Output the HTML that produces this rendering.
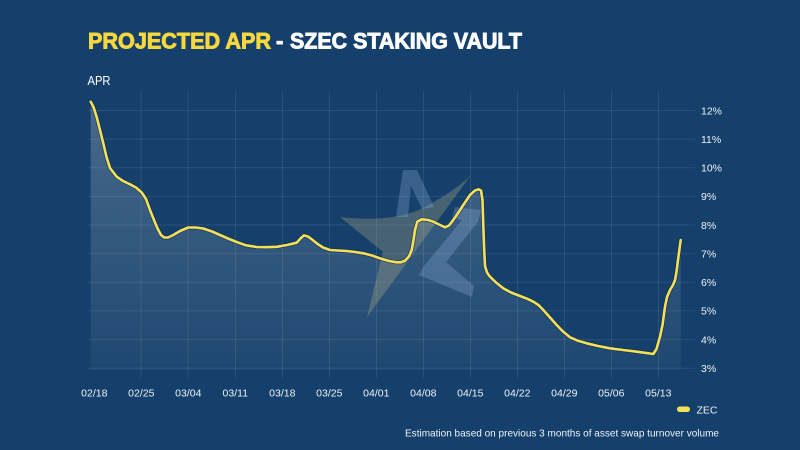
<!DOCTYPE html>
<html>
<head>
<meta charset="utf-8">
<style>
  html,body{margin:0;padding:0;background:#15406b;}
  svg{display:block;}
  text{font-family:"Liberation Sans", sans-serif;}
</style>
</head>
<body>
<svg width="800" height="450" viewBox="0 0 800 450" xmlns="http://www.w3.org/2000/svg">
  <defs>
    <linearGradient id="fillg" x1="0" y1="0" x2="0" y2="1">
      <stop offset="0" stop-color="#ffffff" stop-opacity="0.22"/>
      <stop offset="1" stop-color="#ffffff" stop-opacity="0.04"/>
    </linearGradient>
  </defs>
  <rect width="800" height="450" fill="#15406b"/>

  <!-- Title -->
  <text x="88" y="48.5" font-size="22" font-weight="bold" fill="#f6d73e" stroke="#f6d73e" stroke-width="0.9" textLength="183" lengthAdjust="spacingAndGlyphs">PROJECTED APR</text>
  <text x="276" y="48.5" font-size="22" font-weight="bold" fill="#ffffff" stroke="#ffffff" stroke-width="0.9">-</text>
  <text x="290" y="48.5" font-size="22" font-weight="bold" fill="#ffffff" stroke="#ffffff" stroke-width="0.9" textLength="232" lengthAdjust="spacingAndGlyphs">SZEC STAKING VAULT</text>

  <text x="87.5" y="85" font-size="12.5" fill="#ffffff" textLength="23" lengthAdjust="spacingAndGlyphs">APR</text>

  <!-- Grid -->
  <g stroke="#ffffff" stroke-opacity="0.09" stroke-width="1">
    <line x1="88" y1="110.5" x2="695" y2="110.5"/>
    <line x1="88" y1="139.1" x2="695" y2="139.1"/>
    <line x1="88" y1="167.8" x2="695" y2="167.8"/>
    <line x1="88" y1="196.4" x2="695" y2="196.4"/>
    <line x1="88" y1="225.0" x2="695" y2="225.0"/>
    <line x1="88" y1="253.7" x2="695" y2="253.7"/>
    <line x1="88" y1="282.3" x2="695" y2="282.3"/>
    <line x1="88" y1="310.9" x2="695" y2="310.9"/>
    <line x1="88" y1="339.6" x2="695" y2="339.6"/>
    <line x1="88" y1="368.2" x2="695" y2="368.2"/>
    <line x1="141" y1="92" x2="141" y2="378"/>
    <line x1="188" y1="92" x2="188" y2="378"/>
    <line x1="235.5" y1="92" x2="235.5" y2="378"/>
    <line x1="282.5" y1="92" x2="282.5" y2="378"/>
    <line x1="329.5" y1="92" x2="329.5" y2="378"/>
    <line x1="376.5" y1="92" x2="376.5" y2="378"/>
    <line x1="423.5" y1="92" x2="423.5" y2="378"/>
    <line x1="470.5" y1="92" x2="470.5" y2="378"/>
    <line x1="517.5" y1="92" x2="517.5" y2="378"/>
    <line x1="564.5" y1="92" x2="564.5" y2="378"/>
    <line x1="611.5" y1="92" x2="611.5" y2="378"/>
    <line x1="658.5" y1="92" x2="658.5" y2="378"/>
  </g>

  <!-- Area fill -->
  <polygon fill="url(#fillg)" points="90.7,101.7 93.5,107 96.7,117 100,130 103.3,143.3 106.5,157 110,168 116.7,176.7 123,181 130,184.3 136,187.5 141.7,192.5 146,199 150,210 154,220 157.3,228 161,235 164.3,237.5 168,237.5 173.3,235 180,231 188.3,227.5 196,227.5 203.3,228.5 212,231.5 220,235 228,238.5 236.7,242 246,245.3 256.7,247 266,247.2 276.7,246.8 287,245 296.7,242.7 300.7,238.3 304,235.3 308.3,236.7 312,239.5 316.7,243.3 323,247.5 330,250 338,250.5 346.7,251 355,252 363.3,253.3 372,255.5 380,258.3 389,261 396.7,262.3 401,262.3 405,260.7 409,256.5 411.7,250 413.5,240 415,230 417.3,221.7 421.7,219.3 428.3,220 433.3,221.7 439,224.5 445,227.3 449,225.5 452,221.7 456,216 460,210 465,202.5 470,195 475,190.5 478.5,189.3 481,190.5 482.5,200 483.3,225 484.2,250 485,266 487,272.5 490,276.7 496,282.5 503.3,288.3 511,292.5 520,296 527,298.7 533.3,301.7 538.5,305 543.3,310 550,317.5 556.7,325 563,331.5 570,337.3 578,340.8 586.7,343.3 598,346 610,348.3 623,350 636.7,351.7 645,352.8 653.3,354 656.5,349 660,336.7 662.5,325 665,306.7 667,297 670,290 673,285 675,280 676.5,272 678,260 680.7,240 680.7,370 90.7,370"/>

  <!-- Watermark logo -->
  <path d="M340,217 C375,221 405,218 425,207 C445,196 460,186 471,175 L367,317 L383,252 Z" fill="#c8c08a" fill-opacity="0.28"/>
  <polygon points="403,170 417,170 434,207 422,209 411,186 408,217 396,217" fill="#8fb0d6" fill-opacity="0.3"/>
  <polygon points="455,207 481,210 478,222 446,262 474,286 472,297 419,275 424,266 462,220 452,218" fill="#8fb0d6" fill-opacity="0.3"/>

  <!-- Line -->
  <polyline fill="none" stroke="#0c2845" stroke-opacity="0.55" stroke-width="4.2" stroke-linejoin="round" stroke-linecap="round" points="90.7,101.7 93.5,107 96.7,117 100,130 103.3,143.3 106.5,157 110,168 116.7,176.7 123,181 130,184.3 136,187.5 141.7,192.5 146,199 150,210 154,220 157.3,228 161,235 164.3,237.5 168,237.5 173.3,235 180,231 188.3,227.5 196,227.5 203.3,228.5 212,231.5 220,235 228,238.5 236.7,242 246,245.3 256.7,247 266,247.2 276.7,246.8 287,245 296.7,242.7 300.7,238.3 304,235.3 308.3,236.7 312,239.5 316.7,243.3 323,247.5 330,250 338,250.5 346.7,251 355,252 363.3,253.3 372,255.5 380,258.3 389,261 396.7,262.3 401,262.3 405,260.7 409,256.5 411.7,250 413.5,240 415,230 417.3,221.7 421.7,219.3 428.3,220 433.3,221.7 439,224.5 445,227.3 449,225.5 452,221.7 456,216 460,210 465,202.5 470,195 475,190.5 478.5,189.3 481,190.5 482.5,200 483.3,225 484.2,250 485,266 487,272.5 490,276.7 496,282.5 503.3,288.3 511,292.5 520,296 527,298.7 533.3,301.7 538.5,305 543.3,310 550,317.5 556.7,325 563,331.5 570,337.3 578,340.8 586.7,343.3 598,346 610,348.3 623,350 636.7,351.7 645,352.8 653.3,354 656.5,349 660,336.7 662.5,325 665,306.7 667,297 670,290 673,285 675,280 676.5,272 678,260 680.7,240"/>
  <polyline fill="none" stroke="#f4df5a" stroke-width="2.6" stroke-linejoin="round" stroke-linecap="round" points="90.7,101.7 93.5,107 96.7,117 100,130 103.3,143.3 106.5,157 110,168 116.7,176.7 123,181 130,184.3 136,187.5 141.7,192.5 146,199 150,210 154,220 157.3,228 161,235 164.3,237.5 168,237.5 173.3,235 180,231 188.3,227.5 196,227.5 203.3,228.5 212,231.5 220,235 228,238.5 236.7,242 246,245.3 256.7,247 266,247.2 276.7,246.8 287,245 296.7,242.7 300.7,238.3 304,235.3 308.3,236.7 312,239.5 316.7,243.3 323,247.5 330,250 338,250.5 346.7,251 355,252 363.3,253.3 372,255.5 380,258.3 389,261 396.7,262.3 401,262.3 405,260.7 409,256.5 411.7,250 413.5,240 415,230 417.3,221.7 421.7,219.3 428.3,220 433.3,221.7 439,224.5 445,227.3 449,225.5 452,221.7 456,216 460,210 465,202.5 470,195 475,190.5 478.5,189.3 481,190.5 482.5,200 483.3,225 484.2,250 485,266 487,272.5 490,276.7 496,282.5 503.3,288.3 511,292.5 520,296 527,298.7 533.3,301.7 538.5,305 543.3,310 550,317.5 556.7,325 563,331.5 570,337.3 578,340.8 586.7,343.3 598,346 610,348.3 623,350 636.7,351.7 645,352.8 653.3,354 656.5,349 660,336.7 662.5,325 665,306.7 667,297 670,290 673,285 675,280 676.5,272 678,260 680.7,240"/>

  <!-- Y axis labels -->
  <g font-size="10.5" fill="#eef2f7">
    <text x="701" y="114.3">12%</text>
    <text x="701" y="142.9">11%</text>
    <text x="701" y="171.6">10%</text>
    <text x="701" y="200.2">9%</text>
    <text x="701" y="228.8">8%</text>
    <text x="701" y="257.5">7%</text>
    <text x="701" y="286.1">6%</text>
    <text x="701" y="314.7">5%</text>
    <text x="701" y="343.4">4%</text>
    <text x="701" y="372">3%</text>
  </g>

  <!-- X axis labels -->
  <g font-size="10.5" fill="#eef2f7" text-anchor="middle">
    <text x="94.3" y="396.5">02/18</text>
    <text x="141.3" y="396.5">02/25</text>
    <text x="188.3" y="396.5">03/04</text>
    <text x="235.3" y="396.5">03/11</text>
    <text x="282.3" y="396.5">03/18</text>
    <text x="329.3" y="396.5">03/25</text>
    <text x="376.3" y="396.5">04/01</text>
    <text x="423.3" y="396.5">04/08</text>
    <text x="470.3" y="396.5">04/15</text>
    <text x="517.3" y="396.5">04/22</text>
    <text x="564.3" y="396.5">04/29</text>
    <text x="611.3" y="396.5">05/06</text>
    <text x="658.3" y="396.5">05/13</text>
  </g>

  <!-- Legend -->
  <rect x="677" y="406.5" width="13" height="5.5" rx="2.75" fill="#f4df5a"/>
  <text x="696.5" y="413.5" font-size="10.5" fill="#eef2f7">ZEC</text>

  <!-- Footnote -->
  <text x="405" y="436.5" font-size="10.5" fill="#eef2f7" textLength="314" lengthAdjust="spacingAndGlyphs">Estimation based on previous 3 months of asset swap turnover volume</text>
</svg>
</body>
</html>
